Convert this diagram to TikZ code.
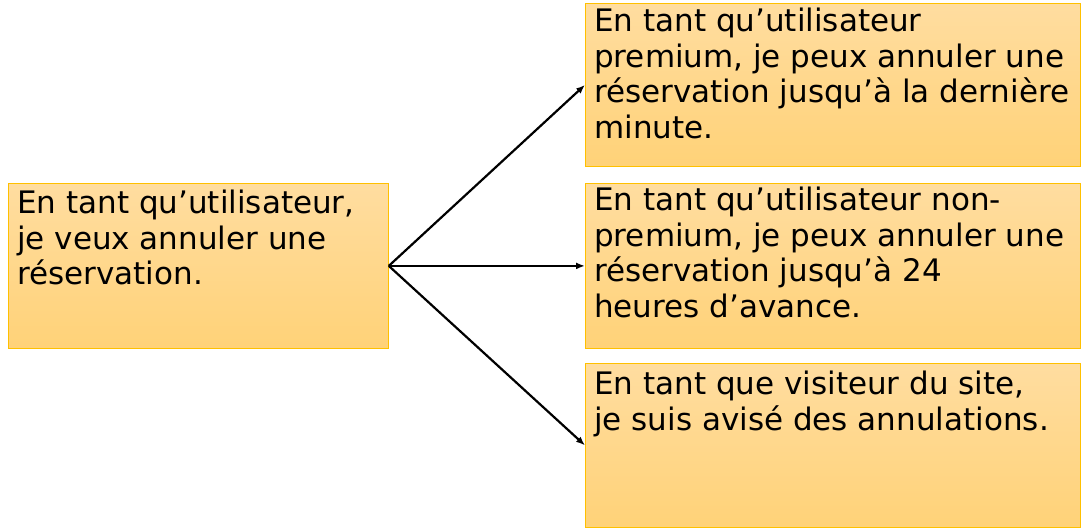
\documentclass[tikz,border=0pt]{standalone}
\usepackage{fontspec}
\setmainfont{DejaVu Sans}
\usetikzlibrary{arrows.meta,positioning}

\definecolor{storytop}{RGB}{255,221,160}
\definecolor{storybottom}{RGB}{255,210,120}
\definecolor{storyedge}{RGB}{255,192,0}

\begin{document}
\begin{tikzpicture}[x=1pt,y=-1pt,
  story/.style={rectangle,draw=storyedge,line width=0.8pt,top color=storytop,bottom color=storybottom,anchor=north west,inner sep=0pt},
  txt/.style={anchor=north west,inner sep=0pt,align=left,font=\fontsize{31}{35.5}\selectfont,execute at begin node=\strut},
  arrow/.style={-{Latex[length=9pt,width=7pt]},line width=2.2pt}
]

\useasboundingbox (0,0) rectangle (1087,532);

% Main story (left)
\node[story,minimum width=380pt,minimum height=165pt] (main) at (8,183) {};
\node[txt] (maintxt) at ([xshift=9pt,yshift=-7pt]main.north west)
  {En tant qu’utilisateur,\\je veux annuler une\\réservation.};

% Split stories (right)
\node[story,minimum width=495pt,minimum height=163pt] (prem) at (585,3) {};
\node[txt] (premtxt) at ([xshift=9pt,yshift=-5pt]prem.north west)
  {En tant qu’utilisateur\\premium, je peux annuler une\\réservation jusqu’à la dernière\\minute.};

\node[story,minimum width=495pt,minimum height=165pt] (nonprem) at (585,183) {};
\node[txt] (nonpremtxt) at ([xshift=9pt,yshift=-4pt]nonprem.north west)
  {En tant qu’utilisateur non-\\premium, je peux annuler une\\réservation jusqu’à 24\\heures d’avance.};

\node[story,minimum width=495pt,minimum height=164pt] (visit) at (585,363) {};
\node[txt] (visittxt) at ([xshift=9pt,yshift=-8pt]visit.north west)
  {En tant que visiteur du site,\\je suis avisé des annulations.};

% Arrows
\draw[arrow] (main.east) -- (prem.west);
\draw[arrow] (main.east) -- (nonprem.west);
\draw[arrow] (main.east) -- (visit.west);

\end{tikzpicture}
\end{document}
